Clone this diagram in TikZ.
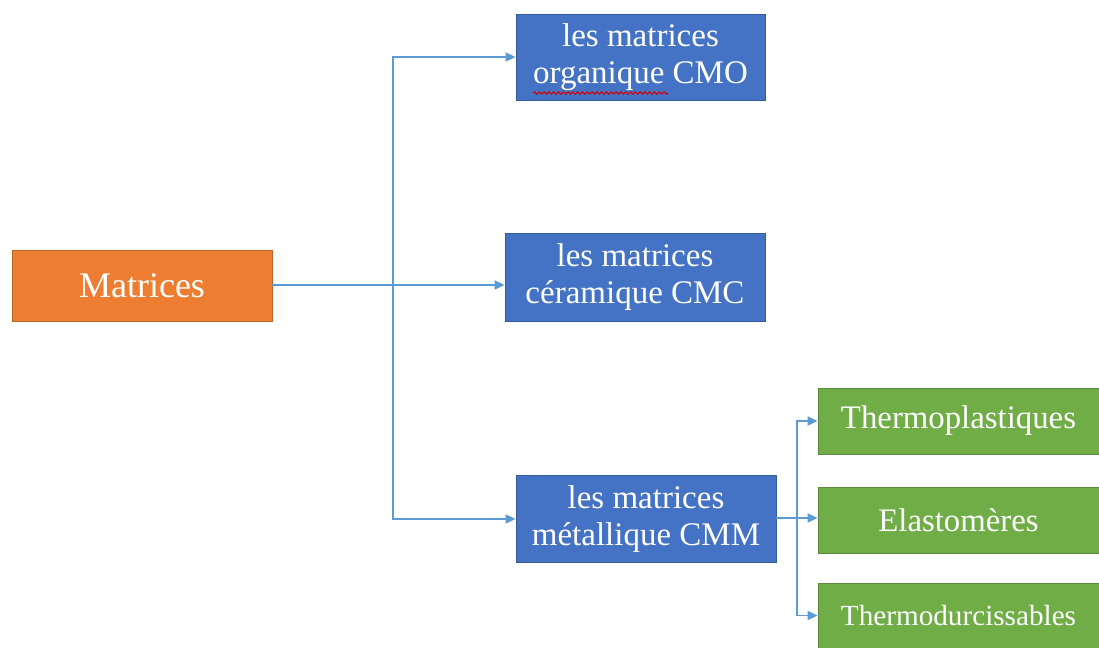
\documentclass[tikz,border=0pt]{standalone}
\usepackage{fontspec}
\setmainfont{Liberation Serif}
\usepackage{tikz}
\usetikzlibrary{positioning, arrows.meta, decorations.pathmorphing}
\definecolor{matOrange}{HTML}{ED7D31}
\definecolor{matBlue}  {HTML}{4472C4}
\definecolor{matGreen} {HTML}{70AD47}
\definecolor{lineBlue} {HTML}{5B9BD5}
\tikzset{
  box/.style={rectangle, text=white, align=center, inner sep=2pt,
    draw=#1!80!black, line width=0.4pt, fill=#1},
  link/.style={draw=lineBlue, line width=0.9pt},
  tip/.style={-{Triangle[length=5pt, width=4.5pt]}}
}
\newcommand{\fsize}[1]{\fontsize{#1}{1.12\dimexpr#1pt\relax}\selectfont}

\begin{document}
\begin{tikzpicture}[x=0.5pt, y=-0.5pt]
\useasboundingbox (0,0) rectangle (1099,648);

% --- ROOT ---
\node[box=matOrange, minimum width=130pt, minimum height=35.5pt,
  font=\fsize{18}] (mat) at (142,285.5) {Matrices};

% --- MATRIX TYPES ---
\node[box=matBlue, minimum width=124.5pt, minimum height=43pt,
  font=\fsize{16.5}] (cmo) at (640.5,57) {les matrices\\organique CMO};
\node[box=matBlue, minimum width=130pt, minimum height=44pt,
  font=\fsize{16.5}] (cmc) at (635,277) {les matrices\\céramique CMC};
\node[box=matBlue, minimum width=130pt, minimum height=43.5pt,
  font=\fsize{16.5}] (cmm) at (646,519) {les matrices\\métallique CMM};

% --- SUB TYPES ---
\node[box=matGreen, minimum width=140.5pt, minimum height=33pt,
  font=\fsize{16.4}] (tpl) at (958.5,421) {Thermoplastiques};
\node[box=matGreen, minimum width=140.5pt, minimum height=33pt,
  font=\fsize{16.4}] (ela) at (958.5,520) {Elastomères};
\node[box=matGreen, minimum width=140.5pt, minimum height=32.5pt,
  font=\fsize{14.6}] (tdu) at (958.5,615.5) {Thermodurcissables};

% spell-check mark
\draw[red!85!black, line width=0.5pt, decorate,
  decoration={snake, amplitude=0.6pt, segment length=2.4pt}]
  (533,93) -- (668,93);

% --- CONNECTORS ---
\coordinate (split) at (393,285);
\draw[link, tip] (mat.east |- split) -- (cmc.west |- split);
\draw[link, tip] (split) |- (cmo.west);
\draw[link, tip] (split) |- (cmm.west);

\coordinate (split2) at (797,518);
\draw[link, tip] (cmm.east |- split2) -- (ela.west |- split2);
\draw[link, tip] (split2) |- (tpl.west);
\draw[link, tip] (split2) |- (tdu.west);

\end{tikzpicture}
\end{document}
